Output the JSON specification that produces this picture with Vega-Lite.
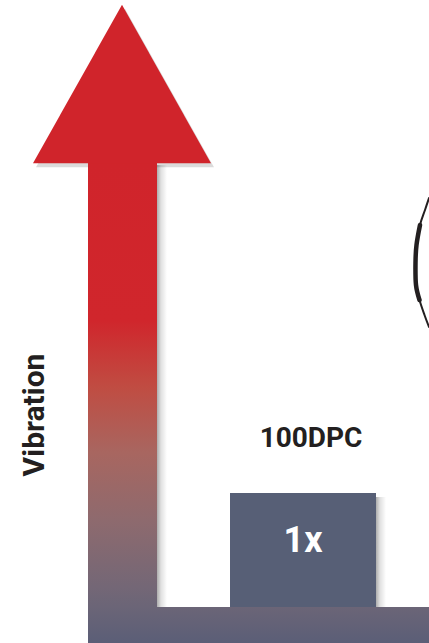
{
  "$schema": "https://vega.github.io/schema/vega-lite/v6.json",
  "width": 429,
  "height": 643,
  "autosize": {"type": "fit", "contains": "padding"},
  "padding": 0,
  "background": "white",
  "config": {"view": {"stroke": null}},
  "datasets": {
    "arrow": [
      {"part": "shaft", "x": 88, "x2": 157, "y": 0, "y2": 481},
      {"part": "base", "x": 157, "x2": 429, "y": 0, "y2": 36}
    ],
    "shadows": [
      {"part": "shaft", "x": 157, "x2": 167, "y": 36, "y2": 478},
      {"part": "bar", "x": 376, "x2": 386, "y": 36, "y2": 146}
    ],
    "head": [{"x": 122, "y": 559}],
    "bars": [{"label": "1x", "group": "100DPC", "x": 230, "x2": 376, "y": 36, "y2": 150}],
    "labels": [
      {"text": "1x", "kind": "value", "x": 303, "y": 91},
      {"text": "100DPC", "kind": "group", "x": 311, "y": 196}
    ],
    "axisTitle": [{"text": "Vibration", "x": 44, "y": 228}],
    "paren": [
      {"i": 0, "x": 429, "y": 445},
      {"i": 1, "x": 425, "y": 433},
      {"i": 2, "x": 420, "y": 418},
      {"i": 3, "x": 416.5, "y": 398},
      {"i": 4, "x": 415.5, "y": 380},
      {"i": 5, "x": 416, "y": 358},
      {"i": 6, "x": 419.5, "y": 343},
      {"i": 7, "x": 424.5, "y": 328},
      {"i": 8, "x": 429, "y": 316}
    ]
  },
  "encoding": {
    "x": {"field": "x", "type": "quantitative", "scale": {"domain": [0, 429], "nice": false, "zero": false}, "axis": null},
    "y": {"field": "y", "type": "quantitative", "scale": {"domain": [0, 643], "nice": false, "zero": false}, "axis": null}
  },
  "layer": [
    {
      "data": {"name": "shadows"},
      "mark": {
        "type": "rect",
        "color": {
          "gradient": "linear", "x1": 0, "y1": 0, "x2": 1, "y2": 0,
          "stops": [
            {"offset": 0, "color": "rgba(0,0,0,0.32)"},
            {"offset": 0.4, "color": "rgba(0,0,0,0.12)"},
            {"offset": 1, "color": "rgba(0,0,0,0)"}
          ]
        }
      },
      "encoding": {"x2": {"field": "x2"}, "y2": {"field": "y2"}}
    },
    {
      "data": {"name": "head"},
      "mark": {"type": "point", "shape": "M0,-0.891L-1,0.891L1,0.891Z", "size": 31684, "filled": true, "color": "#000000", "opacity": 0.14, "xOffset": 3, "yOffset": 4}
    },
    {
      "data": {"name": "arrow"},
      "transform": [{"filter": "datum.part === 'shaft'"}],
      "mark": {
        "type": "rect",
        "color": {
          "gradient": "linear", "x1": 0, "y1": 0, "x2": 0, "y2": 1,
          "stops": [
            {"offset": 0, "color": "#d0242b"},
            {"offset": 0.33, "color": "#d0262c"},
            {"offset": 0.467, "color": "#c04c42"},
            {"offset": 0.604, "color": "#a86660"},
            {"offset": 0.744, "color": "#8e6a6e"},
            {"offset": 0.883, "color": "#746776"},
            {"offset": 0.925, "color": "#6b6577"},
            {"offset": 1, "color": "#5b5e77"}
          ]
        }
      },
      "encoding": {"x2": {"field": "x2"}, "y2": {"field": "y2"}}
    },
    {
      "data": {"name": "arrow"},
      "transform": [{"filter": "datum.part === 'base'"}],
      "mark": {
        "type": "rect",
        "color": {
          "gradient": "linear", "x1": 0, "y1": 0, "x2": 0, "y2": 1,
          "stops": [
            {"offset": 0, "color": "#6b6577"},
            {"offset": 1, "color": "#5b5e77"}
          ]
        }
      },
      "encoding": {"x2": {"field": "x2"}, "y2": {"field": "y2"}}
    },
    {
      "data": {"name": "head"},
      "mark": {"type": "point", "shape": "M0,-0.891L-1,0.891L1,0.891Z", "size": 31684, "filled": true, "color": "#d0242b", "opacity": 1}
    },
    {
      "data": {"name": "bars"},
      "mark": {"type": "rect", "color": "#575f76"},
      "encoding": {"x2": {"field": "x2"}, "y2": {"field": "y2"}}
    },
    {
      "data": {"name": "labels"},
      "transform": [{"filter": "datum.kind === 'value'"}],
      "mark": {"type": "text", "font": "Roboto", "fontWeight": "bold", "fontSize": 36, "color": "#ffffff", "align": "center", "baseline": "alphabetic"},
      "encoding": {"text": {"field": "text"}}
    },
    {
      "data": {"name": "labels"},
      "transform": [{"filter": "datum.kind === 'group'"}],
      "mark": {"type": "text", "font": "Roboto", "fontWeight": "bold", "fontSize": 28, "color": "#231f20", "align": "center", "baseline": "alphabetic"},
      "encoding": {"text": {"field": "text"}}
    },
    {
      "data": {"name": "axisTitle"},
      "mark": {"type": "text", "font": "Roboto", "fontWeight": "bold", "fontSize": 30, "color": "#231f20", "align": "center", "baseline": "alphabetic", "angle": 270},
      "encoding": {"text": {"field": "text"}}
    },
    {
      "data": {"name": "paren"},
      "mark": {"type": "line", "color": "#231f20", "strokeWidth": 2, "interpolate": "cardinal", "strokeCap": "round", "clip": true},
      "encoding": {"order": {"field": "i", "type": "quantitative"}}
    },
    {
      "data": {"name": "paren"},
      "transform": [{"filter": "datum.i >= 2 && datum.i <= 6"}],
      "mark": {"type": "line", "color": "#231f20", "strokeWidth": 4.5, "interpolate": "cardinal", "strokeCap": "round", "clip": true},
      "encoding": {"order": {"field": "i", "type": "quantitative"}}
    }
  ]
}
